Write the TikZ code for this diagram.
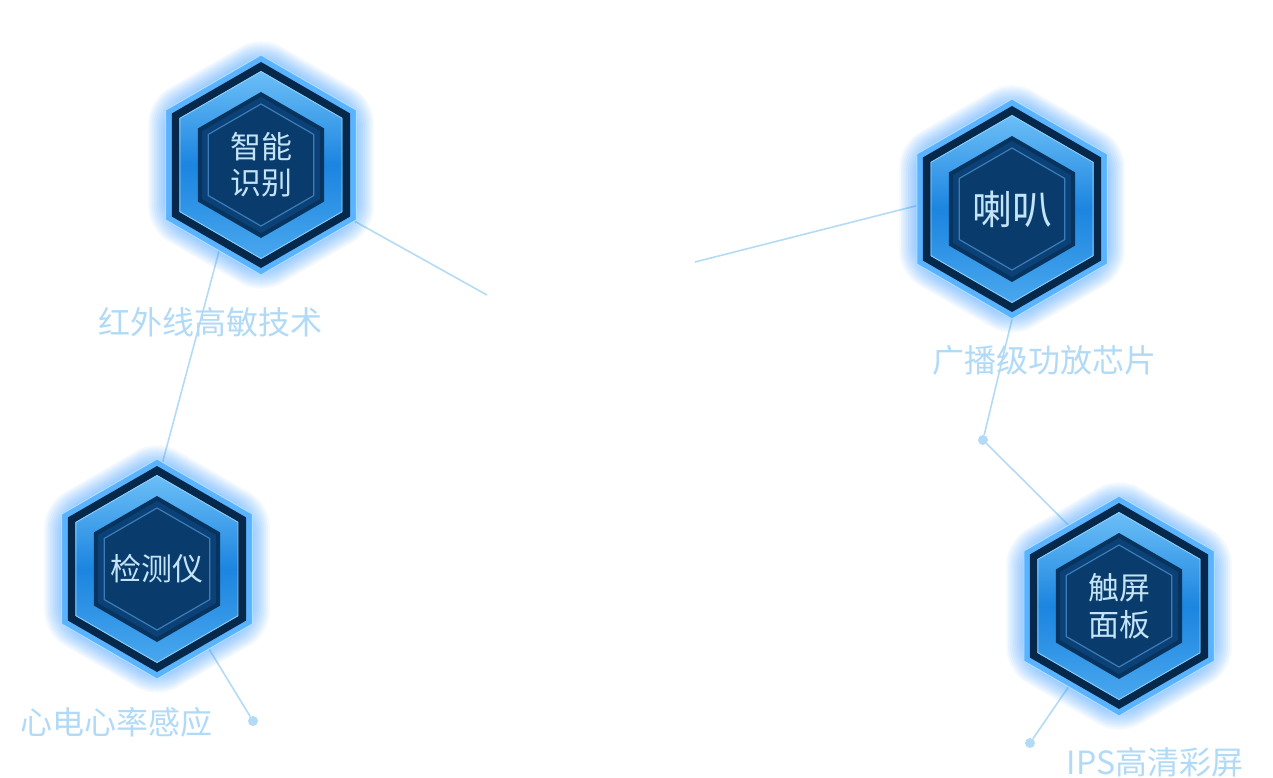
\documentclass[tikz,border=0pt]{standalone}
\usepackage{fontspec}
\newfontfamily\cjk{Noto Sans CJK SC}
\usetikzlibrary{shapes.geometric}
\pgfdeclarelayer{bg}\pgfdeclarelayer{deco}
\pgfsetlayers{bg,deco,main}
\definecolor{linec}{HTML}{B4DBF6}
\definecolor{glowc}{HTML}{2A95FF}
\definecolor{rimc}{HTML}{5AB3FF}
\definecolor{rimline}{HTML}{B0DEFF}
\definecolor{darkc}{HTML}{06284A}
\definecolor{bandtop}{HTML}{6CBFF7}
\definecolor{bandmid}{HTML}{1C85E0}
\definecolor{bandbot}{HTML}{49A7EE}
\definecolor{bandline}{HTML}{8FD0FA}
\definecolor{innerA}{HTML}{07345F}
\definecolor{innerB}{HTML}{0B4176}
\definecolor{innerC}{HTML}{093B6C}
\definecolor{innerline}{HTML}{3B7DB8}
\definecolor{textc}{HTML}{C3E3F7}
\definecolor{labelc}{HTML}{B1DAF7}
\newcommand\hx[1]{(90:#1) -- (150:#1) -- (210:#1) -- (270:#1) -- (330:#1) -- (30:#1) -- cycle}
\newcommand\hexdeco[1]{%
\begin{scope}[shift={(#1.center)}]
\foreach \r in {106,108,...,130}{\fill[glowc,opacity=0.055,rounded corners=22pt] \hx{\r};}
\fill[rimc] \hx{110};
\draw[rimline,line width=1] \hx{110};
\fill[darkc] \hx{103};
\shade[top color=bandtop,bottom color=bandbot,middle color=bandmid] \hx{94};
\draw[bandline,line width=0.8] \hx{93.5};
\fill[innerA] \hx{73};
\fill[innerB] \hx{68};
\fill[innerC] \hx{61};
\draw[innerline,line width=1.2] \hx{61};
\end{scope}}
\tikzset{
  hexnode/.style={regular polygon, regular polygon sides=6, shape border rotate=30,
    minimum size=220pt, inner sep=0pt, outer sep=0pt, text=textc, align=center,
    font=\cjk\fontsize{31}{36}\selectfont},
  label/.style={text=labelc, inner sep=0pt, font=\cjk\fontsize{32}{36}\selectfont},
  conn/.style={draw=linec, line width=1.6pt},
  dotnode/.style={circle, fill=linec, minimum size=10pt, inner sep=0pt}
}
\begin{document}
\begin{tikzpicture}[x=1pt,y=-1pt]
\useasboundingbox (0,0) rectangle (1273,778);
% hexagon nodes (text on top)
\node[hexnode] (h1) at (261,165) {智能\\识别};
\node[hexnode, font=\cjk\fontsize{40}{44}\selectfont] (h2) at (1012,209) {喇叭};
\node[hexnode] (h3) at (157,569) {检测仪};
\node[hexnode, font=\cjk\fontsize{31}{37}\selectfont] (h4) at (1119,606) {触屏\\面板};
% labels
\node[label] (l1) at (210.5,322) {红外线高敏技术};
\node[label] (l2) at (1044,360) {广播级功放芯片};
\node[label] (l3) at (116,722) {心电心率感应};
\node[label] (l4) at (1155,762) {IPS高清彩屏};
% dots and free ends
\node[dotnode] (d1) at (253,721) {};
\node[dotnode] (d2) at (983,440) {};
\node[dotnode] (d3) at (1030,743) {};
\coordinate (f1) at (487,295);
\coordinate (f2) at (695,262);
\begin{pgfonlayer}{bg}
\fill[white] (0,0) rectangle (1273,778);
\draw[conn] (h1.-31) -- (f1);
\draw[conn] (f2) -- (h2.178);
\draw[conn] (h1.244) -- (h3.87);
\draw[conn] (h3.-57) -- (d1);
\draw[conn] (h2.270) -- (d2) -- (h4.122);
\draw[conn] (h4.238) -- (d3);
\end{pgfonlayer}
\begin{pgfonlayer}{deco}
\hexdeco{h1}
\hexdeco{h2}
\hexdeco{h3}
\hexdeco{h4}
\end{pgfonlayer}
\end{tikzpicture}
\end{document}
